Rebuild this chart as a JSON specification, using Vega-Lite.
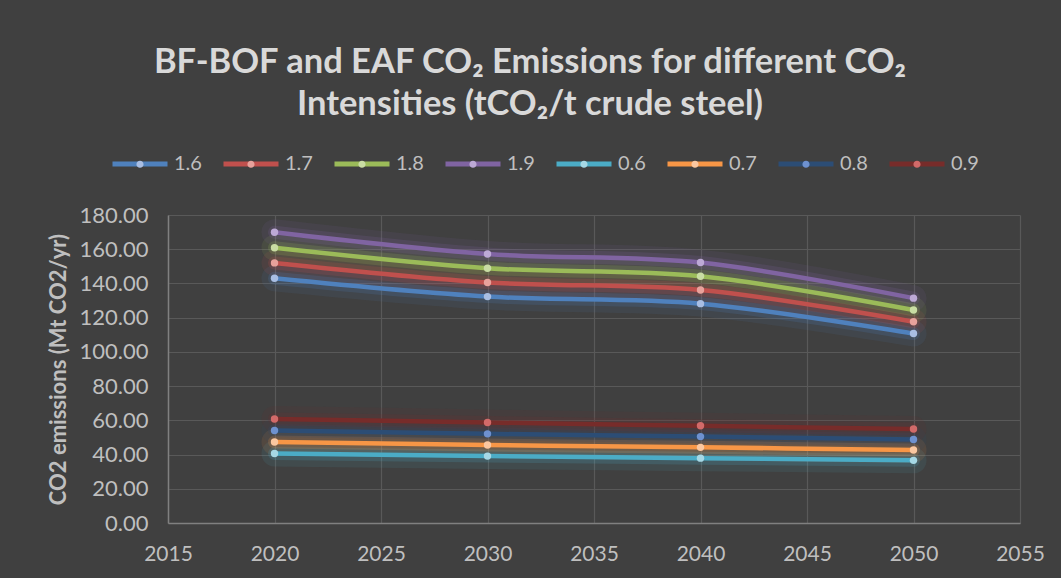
{
  "$schema": "https://vega.github.io/schema/vega-lite/v6.json",
  "width": 852,
  "height": 308,
  "autosize": {"type": "none"},
  "padding": {"left": 168, "top": 215, "right": 41, "bottom": 55},
  "background": "#404040",
  "config": {"view": {"stroke": null}, "font": "Lato"},
  "title": {
    "text": ["BF-BOF and EAF CO₂ Emissions for different CO₂", "Intensities (tCO₂/t crude steel)"],
    "font": "Lato, Noto Sans",
    "fontSize": 34.5,
    "fontWeight": "bold",
    "color": "#d9d9d9",
    "anchor": "middle",
    "dx": -64,
    "lineHeight": 42,
    "offset": 12
  },
  "data": {
    "values": [
      {"year": 2020, "intensity": "1.6", "value": 143.0},
      {"year": 2030, "intensity": "1.6", "value": 132.3},
      {"year": 2040, "intensity": "1.6", "value": 128.2},
      {"year": 2050, "intensity": "1.6", "value": 110.7},
      {"year": 2020, "intensity": "1.7", "value": 152.0},
      {"year": 2030, "intensity": "1.7", "value": 140.6},
      {"year": 2040, "intensity": "1.7", "value": 136.2},
      {"year": 2050, "intensity": "1.7", "value": 117.6},
      {"year": 2020, "intensity": "1.8", "value": 160.9},
      {"year": 2030, "intensity": "1.8", "value": 148.9},
      {"year": 2040, "intensity": "1.8", "value": 144.2},
      {"year": 2050, "intensity": "1.8", "value": 124.5},
      {"year": 2020, "intensity": "1.9", "value": 169.9},
      {"year": 2030, "intensity": "1.9", "value": 157.2},
      {"year": 2040, "intensity": "1.9", "value": 152.2},
      {"year": 2050, "intensity": "1.9", "value": 131.4},
      {"year": 2020, "intensity": "0.6", "value": 40.6},
      {"year": 2030, "intensity": "0.6", "value": 39.1},
      {"year": 2040, "intensity": "0.6", "value": 37.9},
      {"year": 2050, "intensity": "0.6", "value": 36.6},
      {"year": 2020, "intensity": "0.7", "value": 47.3},
      {"year": 2030, "intensity": "0.7", "value": 45.6},
      {"year": 2040, "intensity": "0.7", "value": 44.2},
      {"year": 2050, "intensity": "0.7", "value": 42.7},
      {"year": 2020, "intensity": "0.8", "value": 54.1},
      {"year": 2030, "intensity": "0.8", "value": 52.1},
      {"year": 2040, "intensity": "0.8", "value": 50.5},
      {"year": 2050, "intensity": "0.8", "value": 48.8},
      {"year": 2020, "intensity": "0.9", "value": 60.8},
      {"year": 2030, "intensity": "0.9", "value": 58.7},
      {"year": 2040, "intensity": "0.9", "value": 56.8},
      {"year": 2050, "intensity": "0.9", "value": 54.9}
    ]
  },
  "encoding": {
    "x": {
      "field": "year",
      "type": "quantitative",
      "scale": {"domain": [2015, 2055], "nice": false, "zero": false},
      "axis": {
        "values": [2015, 2020, 2025, 2030, 2035, 2040, 2045, 2050, 2055],
        "format": "d",
        "title": null,
        "grid": true,
        "gridColor": "#595959",
        "gridWidth": 1.2,
        "domainColor": "#808080",
        "domainWidth": 1.5,
        "ticks": false,
        "labelColor": "#bfbfbf",
        "labelFontSize": 21,
        "labelPadding": 20,
        "labelFlush": false,
        "labelOverlap": false
      }
    },
    "y": {
      "field": "value",
      "type": "quantitative",
      "scale": {"domain": [0, 180], "nice": false},
      "axis": {
        "values": [0, 20, 40, 60, 80, 100, 120, 140, 160, 180],
        "format": ".2f",
        "title": "CO2 emissions (Mt CO2/yr)",
        "titleColor": "#bfbfbf",
        "titleFontSize": 22,
        "titleFontWeight": "bold",
        "titlePadding": 9,
        "grid": true,
        "gridColor": "#595959",
        "gridWidth": 1.2,
        "domainColor": "#808080",
        "domainWidth": 1.5,
        "ticks": false,
        "labelColor": "#bfbfbf",
        "labelFontSize": 22,
        "labelPadding": 20,
        "labelFlush": false,
        "labelOverlap": false
      }
    }
  },
  "layer": [
    {
      "mark": {"type": "line", "interpolate": "catmull-rom", "strokeWidth": 26, "opacity": 0.1, "strokeCap": "round"},
      "encoding": {
        "color": {
          "field": "intensity",
          "type": "nominal",
          "scale": {
            "domain": ["0.6", "0.7", "0.8", "0.9", "1.6", "1.7", "1.8", "1.9"],
            "range": ["#4BACC6", "#F79646", "#2C4D75", "#772C2A", "#4F81BD", "#C0504D", "#9BBB59", "#8064A2"]
          },
          "legend": null
        }
      }
    },
    {
      "mark": {"type": "line", "interpolate": "catmull-rom", "strokeWidth": 13, "opacity": 0.18, "strokeCap": "round"},
      "encoding": {
        "color": {"field": "intensity", "type": "nominal", "legend": null}
      }
    },
    {
      "mark": {"type": "line", "interpolate": "catmull-rom", "strokeWidth": 4.5, "strokeCap": "round"},
      "encoding": {
        "stroke": {
          "field": "intensity",
          "type": "nominal",
          "scale": {
            "domain": ["1.6", "1.7", "1.8", "1.9", "0.6", "0.7", "0.8", "0.9"],
            "range": ["#4F81BD", "#C0504D", "#9BBB59", "#8064A2", "#4BACC6", "#F79646", "#2C4D75", "#772C2A"]
          },
          "legend": {
            "orient": "none",
            "legendX": -58,
            "legendY": -81,
            "direction": "horizontal",
            "columns": 8,
            "columnPadding": 11,
            "title": null,
            "symbolType": "M-1,0H1",
            "symbolSize": 3025,
            "symbolStrokeWidth": 5,
            "labelOffset": 4,
            "labelFontSize": 20,
            "labelColor": "#bfbfbf",
            "zindex": 1
          }
        }
      }
    },
    {
      "mark": {"type": "point", "filled": true, "size": 55, "opacity": 1, "strokeWidth": 0},
      "encoding": {
        "fill": {
          "field": "intensity",
          "type": "nominal",
          "sort": ["1.6", "1.7", "1.8", "1.9", "0.6", "0.7", "0.8", "0.9"],
          "scale": {
            "range": ["#A9BEE3", "#E8A29C", "#C9DDA3", "#BDA9D6", "#A6D8E5", "#FAC7A0", "#6E91CF", "#D26A69"]
          },
          "legend": {
            "orient": "none",
            "legendX": -58,
            "legendY": -81,
            "direction": "horizontal",
            "columns": 8,
            "columnPadding": 11,
            "title": null,
            "symbolType": "M-1,0H1M0.13,0A0.13,0.13 0 1 1 -0.13,0A0.13,0.13 0 1 1 0.13,0Z",
            "symbolSize": 3025,
            "symbolStrokeWidth": 5,
            "symbolStrokeColor": "transparent",
            "labelOffset": 4,
            "labelFontSize": 20,
            "labelColor": "#bfbfbf",
            "labelOpacity": 0,
            "zindex": 2
          }
        }
      }
    }
  ]
}
